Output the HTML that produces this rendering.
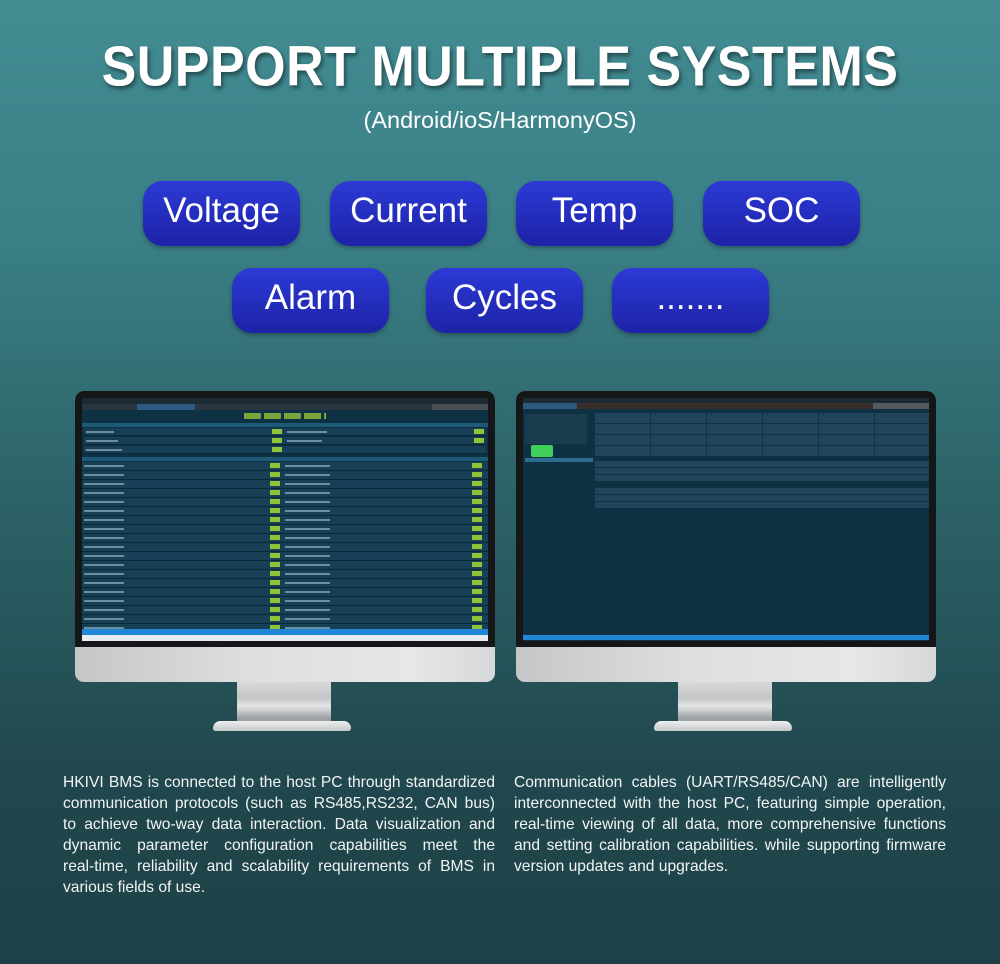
<!DOCTYPE html>
<html><head><meta charset="utf-8"><style>
*{margin:0;padding:0;box-sizing:border-box}
body{width:1000px;height:964px;overflow:hidden;background:linear-gradient(180deg,#428c92 0%,#3a7f86 25%,#2c6469 50%,#21484e 80%,#1d4147 100%);font-family:"Liberation Sans",sans-serif;position:relative}
.title{position:absolute;left:0;width:1000px;top:37px;text-align:center;color:#fff;font-weight:bold;font-size:52px;letter-spacing:0.5px;transform:scaleY(1.08);text-shadow:2px 3px 4px rgba(0,0,0,.45)}
.sub{position:absolute;left:0;width:1000px;top:107px;text-align:center;color:#fff;font-size:23.5px}
.btn{position:absolute;width:157px;height:65px;border-radius:20px;background:linear-gradient(180deg,#2c3ad6,#1d22a6);color:#fff;font-size:35px;text-align:center;line-height:60px;box-shadow:0 2px 4px rgba(0,0,0,.3)}
.mon{position:absolute;width:420px;height:291px;border-radius:9px;background:linear-gradient(90deg,#c4c6c8,#dcdedf 40%,#e6e7e8 80%,#d6d8d9);}
.bez{position:absolute;left:0;top:0;width:420px;height:256px;background:#141618;border-radius:9px 9px 0 0}
.scr{position:absolute;left:7px;top:7px;width:406px;height:243px;background:#0e3244;overflow:hidden}
.neck{position:absolute;width:94px;height:40px;background:linear-gradient(180deg,#d8d9da,#c3c5c7 40%,#e4e5e6 60%,#9fa2a5 90%)}
.base{position:absolute;width:138px;height:10px;border-radius:8px 8px 3px 3px;background:linear-gradient(180deg,#eef0f0,#c4c6c8)}
.p{position:absolute;color:#f2f4f4;font-size:15.6px;line-height:21px}
.p div{text-align:justify;text-align-last:justify;white-space:nowrap}
.p div.l{text-align-last:left}
.row{position:absolute;left:2px;width:402px;height:8px;background:#173f55;border-bottom:1px solid #0a2836}
.g{position:absolute;width:10px;height:5px;top:1px;background:#8fc43a}
.t{position:absolute;height:2px;top:3px;background:#6d8fa0}
</style></head><body>
<div class="title">SUPPORT MULTIPLE SYSTEMS</div>
<div class="sub">(Android/ioS/HarmonyOS)</div>
<div class="btn" style="left:143px;top:181px">Voltage</div>
<div class="btn" style="left:330px;top:181px">Current</div>
<div class="btn" style="left:516px;top:181px">Temp</div>
<div class="btn" style="left:703px;top:181px">SOC</div>
<div class="btn" style="left:232px;top:268px">Alarm</div>
<div class="btn" style="left:426px;top:268px">Cycles</div>
<div class="btn" style="left:612px;top:268px">.......</div>

<!-- left monitor -->
<div class="mon" style="left:75px;top:391px">
 <div class="bez"><div class="scr">
  <div style="position:absolute;left:0;top:0;width:406px;height:6px;background:#1b2a33"></div>
  <div style="position:absolute;left:0;top:6px;width:406px;height:6px;background:#2a3540"></div>
  <div style="position:absolute;left:55px;top:6px;width:58px;height:6px;background:#2d5a80"></div>
  <div style="position:absolute;left:350px;top:6px;width:56px;height:6px;background:#4a5056"></div>
  <div style="position:absolute;left:162px;top:15px;width:82px;height:6px;background:repeating-linear-gradient(90deg,#7ba43a 0 17px,transparent 17px 20px)"></div>
  <div style="position:absolute;left:0;top:25px;width:406px;height:4px;background:#1d5a78"></div>
  <div style="position:absolute;left:0;top:59px;width:406px;height:4px;background:#1d5a78"></div>
  <div class="row" style="top:30px"><span class="t" style="left:2px;width:28px"></span><span class="g" style="left:188px"></span><span class="t" style="left:203px;width:40px"></span><span class="g" style="left:390px"></span></div>
  <div class="row" style="top:39px"><span class="t" style="left:2px;width:32px"></span><span class="g" style="left:188px"></span><span class="t" style="left:203px;width:35px"></span><span class="g" style="left:390px"></span></div>
  <div class="row" style="top:48px"><span class="t" style="left:2px;width:36px"></span><span class="g" style="left:188px"></span></div>
  <div style="position:absolute;left:0;top:64px;width:406px;height:170px;background:repeating-linear-gradient(180deg,#173f55 0 8px,#0a2836 8px 9px)"></div>
  <div style="position:absolute;left:188px;top:65px;width:10px;height:169px;background:repeating-linear-gradient(180deg,#8fc43a 0 5px,transparent 5px 9px)"></div>
  <div style="position:absolute;left:390px;top:65px;width:10px;height:169px;background:repeating-linear-gradient(180deg,#8fc43a 0 5px,transparent 5px 9px)"></div>
  <div style="position:absolute;left:2px;top:67px;width:40px;height:165px;background:repeating-linear-gradient(180deg,#6d8fa0 0 2px,transparent 2px 9px)"></div>
  <div style="position:absolute;left:203px;top:67px;width:45px;height:165px;background:repeating-linear-gradient(180deg,#6d8fa0 0 2px,transparent 2px 9px)"></div>
  <div style="position:absolute;left:0;top:231px;width:406px;height:6px;background:#1f87d6"></div>
  <div style="position:absolute;left:0;top:237px;width:406px;height:6px;background:#e8ecf0"></div>
 </div></div>
</div>
<div class="neck" style="left:237px;top:682px"></div>
<div class="base" style="left:213px;top:721px"></div>

<!-- right monitor -->
<div class="mon" style="left:516px;top:391px">
 <div class="bez"><div class="scr">
  <div style="position:absolute;left:0;top:0;width:406px;height:5px;background:#1b2a33"></div>
  <div style="position:absolute;left:0;top:5px;width:406px;height:6px;background:#3a2e2a"></div>
  <div style="position:absolute;left:0;top:5px;width:54px;height:6px;background:#2d5a80"></div>
  <div style="position:absolute;left:350px;top:5px;width:56px;height:6px;background:#555a5e"></div>
  <div style="position:absolute;left:2px;top:16px;width:62px;height:30px;background:#1a3c4e"></div>
  <div style="position:absolute;left:8px;top:47px;width:22px;height:12px;background:#3fcf5a;border-radius:2px"></div>
  <div style="position:absolute;left:2px;top:60px;width:68px;height:4px;background:#2d6d90"></div>
  <div style="position:absolute;left:72px;top:15px;width:334px;height:43px;background:repeating-linear-gradient(180deg,#20455a 0 10px,#0e3244 10px 11px)"></div>
  <div style="position:absolute;left:72px;top:15px;width:334px;height:43px;background:repeating-linear-gradient(90deg,transparent 0 55px,#0e3244 55px 56px)"></div>
  <div style="position:absolute;left:72px;top:63px;width:334px;height:20px;background:repeating-linear-gradient(180deg,#20455a 0 6px,#0e3244 6px 7px)"></div>
  <div style="position:absolute;left:72px;top:90px;width:334px;height:20px;background:repeating-linear-gradient(180deg,#20455a 0 6px,#0e3244 6px 7px)"></div>
  <div style="position:absolute;left:0;top:237px;width:406px;height:5px;background:#1f87d6"></div>
 </div></div>
</div>
<div class="neck" style="left:678px;top:682px"></div>
<div class="base" style="left:654px;top:721px"></div>

<div class="p" style="left:63px;top:772px;width:432px">
<div>HKIVI BMS is connected to the host PC through standardized</div>
<div>communication protocols (such as RS485,RS232, CAN bus)</div>
<div>to achieve two-way data interaction. Data visualization and</div>
<div>dynamic parameter configuration capabilities meet the</div>
<div>real-time, reliability and scalability requirements of BMS in</div>
<div class="l">various fields of use.</div>
</div>
<div class="p" style="left:514px;top:772px;width:432px">
<div>Communication cables (UART/RS485/CAN) are intelligently</div>
<div>interconnected with the host PC, featuring simple operation,</div>
<div>real-time viewing of all data, more comprehensive functions</div>
<div>and setting calibration capabilities. while supporting firmware</div>
<div class="l">version updates and upgrades.</div>
</div>
</body></html>
